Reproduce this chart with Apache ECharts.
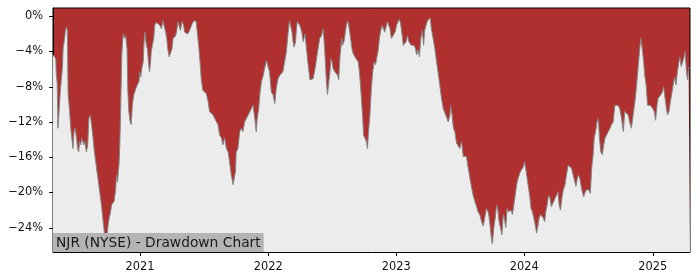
<!DOCTYPE html>
<html>
<head>
<meta charset="utf-8">
<script src="https://cdn.jsdelivr.net/npm/echarts@6/dist/echarts.min.js"></script>
<style>html,body{margin:0;padding:0;background:#fff}#chart{width:700px;height:280px}</style>
</head>
<body>
<div id="chart"></div>
<script>
const titleText = 'NJR (NYSE) - Drawdown Chart';
const yTicks = [0, -4, -8, -12, -16, -20, -24];
const xTickYears = [2021, 2022, 2023, 2024, 2025];
const xRange = ['2020-04-28', '2025-04-17'];
const yRange = [-26.75, 0.94];

const dates = [
'2020-04-28','2020-05-06','2020-05-07','2020-05-10','2020-05-12','2020-05-15','2020-05-19','2020-05-22','2020-05-25','2020-05-27','2020-05-29',
'2020-06-02','2020-06-05','2020-06-08','2020-06-10','2020-06-14','2020-06-18','2020-06-20','2020-06-24','2020-06-27','2020-06-30',
'2020-07-04','2020-07-07','2020-07-10','2020-07-13','2020-07-16','2020-07-19','2020-07-22','2020-07-25','2020-07-28',
'2020-08-01','2020-08-05','2020-08-08','2020-08-12','2020-08-16','2020-08-20','2020-08-24','2020-08-29',
'2020-09-03','2020-09-08','2020-09-13','2020-09-18','2020-09-22','2020-09-25','2020-09-27','2020-09-29',
'2020-10-02','2020-10-05','2020-10-09','2020-10-12','2020-10-16','2020-10-19','2020-10-23','2020-10-26','2020-10-29','2020-10-31',
'2020-11-02','2020-11-04','2020-11-06','2020-11-08','2020-11-10','2020-11-13','2020-11-15','2020-11-18','2020-11-21','2020-11-23','2020-11-25','2020-11-27','2020-11-30',
'2020-12-04','2020-12-07','2020-12-10','2020-12-14','2020-12-17','2020-12-20','2020-12-24','2020-12-27','2020-12-29','2020-12-31',
'2021-01-03','2021-01-06','2021-01-10','2021-01-13','2021-01-15','2021-01-19','2021-01-22','2021-01-25','2021-01-28','2021-01-31',
'2021-02-02','2021-02-05','2021-02-09','2021-02-12','2021-02-16','2021-02-21','2021-02-26',
'2021-03-03','2021-03-07','2021-03-12','2021-03-15','2021-03-18','2021-03-21','2021-03-25','2021-03-29',
'2021-04-02','2021-04-05','2021-04-08','2021-04-11','2021-04-15','2021-04-19','2021-04-23','2021-04-26','2021-04-28',
'2021-05-01','2021-05-05','2021-05-08','2021-05-13','2021-05-17','2021-05-22','2021-05-27','2021-05-30',
'2021-06-04','2021-06-07','2021-06-10','2021-06-13','2021-06-17','2021-06-21','2021-06-25','2021-06-29',
'2021-07-04','2021-07-09','2021-07-14','2021-07-18','2021-07-23','2021-07-28',
'2021-08-02','2021-08-06','2021-08-11','2021-08-16','2021-08-21','2021-08-25','2021-08-30',
'2021-09-04','2021-09-09','2021-09-13','2021-09-18','2021-09-23','2021-09-26','2021-09-30',
'2021-10-02','2021-10-07','2021-10-12','2021-10-17','2021-10-21','2021-10-26','2021-10-31',
'2021-11-05','2021-11-09','2021-11-14','2021-11-19','2021-11-24','2021-11-28',
'2021-12-01','2021-12-05','2021-12-09','2021-12-13','2021-12-18','2021-12-22','2021-12-27',
'2022-01-01','2022-01-05','2022-01-10','2022-01-15','2022-01-20','2022-01-24','2022-01-29',
'2022-02-03','2022-02-08','2022-02-12','2022-02-17','2022-02-22','2022-02-27',
'2022-03-03','2022-03-06','2022-03-10','2022-03-13','2022-03-16','2022-03-20','2022-03-22','2022-03-25','2022-03-28',
'2022-04-01','2022-04-04','2022-04-07','2022-04-11','2022-04-16','2022-04-20','2022-04-25','2022-04-30',
'2022-05-04','2022-05-09','2022-05-14','2022-05-19','2022-05-23','2022-05-28',
'2022-06-02','2022-06-07','2022-06-11','2022-06-16','2022-06-19','2022-06-22','2022-06-26','2022-06-29',
'2022-07-02','2022-07-05','2022-07-10','2022-07-15','2022-07-18','2022-07-21','2022-07-25','2022-07-30',
'2022-08-01','2022-08-05','2022-08-09','2022-08-12','2022-08-16','2022-08-20','2022-08-24','2022-08-28','2022-08-31',
'2022-09-04','2022-09-08','2022-09-11','2022-09-15','2022-09-19','2022-09-23','2022-09-27','2022-09-30',
'2022-10-04','2022-10-08','2022-10-11','2022-10-14','2022-10-18','2022-10-22','2022-10-26','2022-10-30',
'2022-11-03','2022-11-06','2022-11-10','2022-11-14','2022-11-18','2022-11-22','2022-11-25','2022-11-29',
'2022-12-03','2022-12-07','2022-12-11','2022-12-14','2022-12-18','2022-12-22','2022-12-26','2022-12-30',
'2023-01-02','2023-01-06','2023-01-10','2023-01-14','2023-01-18','2023-01-21','2023-01-25','2023-01-29',
'2023-02-02','2023-02-06','2023-02-09','2023-02-13','2023-02-17','2023-02-21','2023-02-25','2023-02-28',
'2023-03-04','2023-03-08','2023-03-12','2023-03-16','2023-03-20','2023-03-23','2023-03-27','2023-03-31',
'2023-04-04','2023-04-08','2023-04-11','2023-04-16','2023-04-21','2023-04-26','2023-04-30',
'2023-05-05','2023-05-10','2023-05-15','2023-05-20','2023-05-24','2023-05-29',
'2023-06-03','2023-06-05','2023-06-09','2023-06-13','2023-06-17','2023-06-22','2023-06-26',
'2023-07-01','2023-07-06','2023-07-11','2023-07-15','2023-07-20','2023-07-25','2023-07-30',
'2023-08-03','2023-08-08','2023-08-13','2023-08-18','2023-08-22','2023-08-27',
'2023-09-01','2023-09-06','2023-09-10','2023-09-15','2023-09-20','2023-09-23','2023-09-27','2023-09-30',
'2023-10-02','2023-10-06','2023-10-10','2023-10-14','2023-10-17','2023-10-21','2023-10-25','2023-10-29',
'2023-11-02','2023-11-05','2023-11-09','2023-11-13','2023-11-17','2023-11-21','2023-11-24','2023-11-28',
'2023-12-02','2023-12-06','2023-12-10','2023-12-14','2023-12-19','2023-12-24','2023-12-29',
'2024-01-02','2024-01-05','2024-01-09','2024-01-13','2024-01-17','2024-01-20','2024-01-24','2024-01-28',
'2024-02-01','2024-02-05','2024-02-09','2024-02-12','2024-02-16','2024-02-20','2024-02-24','2024-02-28',
'2024-03-02','2024-03-06','2024-03-10','2024-03-14','2024-03-18','2024-03-21','2024-03-25','2024-03-29',
'2024-04-02','2024-04-06','2024-04-09','2024-04-13','2024-04-17','2024-04-21','2024-04-26','2024-04-30',
'2024-05-05','2024-05-10','2024-05-14','2024-05-19','2024-05-24','2024-05-27','2024-05-31',
'2024-06-03','2024-06-07','2024-06-10','2024-06-14','2024-06-18','2024-06-21','2024-06-25','2024-06-29',
'2024-07-03','2024-07-07','2024-07-11','2024-07-15','2024-07-18','2024-07-22','2024-07-26','2024-07-30',
'2024-08-02','2024-08-06','2024-08-10','2024-08-14','2024-08-18','2024-08-22','2024-08-27',
'2024-09-01','2024-09-05','2024-09-10','2024-09-15','2024-09-20','2024-09-24','2024-09-29',
'2024-10-04','2024-10-09','2024-10-13','2024-10-18','2024-10-23','2024-10-27',
'2024-11-01','2024-11-06','2024-11-11','2024-11-15','2024-11-20','2024-11-24','2024-11-28',
'2024-12-02','2024-12-06','2024-12-09','2024-12-13','2024-12-17','2024-12-21','2024-12-25','2024-12-29',
'2025-01-01','2025-01-05','2025-01-09','2025-01-13','2025-01-16','2025-01-20','2025-01-24','2025-01-28',
'2025-02-01','2025-02-05','2025-02-09','2025-02-12','2025-02-16','2025-02-20','2025-02-24','2025-02-28',
'2025-03-04','2025-03-08','2025-03-12','2025-03-15','2025-03-19','2025-03-23','2025-03-27','2025-03-30',
'2025-04-03','2025-04-07','2025-04-10','2025-04-13','2025-04-17'
];

const drawdown = [
-4.4,-4.8,-6.3,-7.6,-12.7,-11.0,-8.4,-7.1,-5.7,-3.5,-3.1,
-1.8,-1.2,-1.6,-8.8,-10.6,-12.9,-13.1,-15.0,-13.1,-12.7,
-13.8,-15.0,-15.4,-14.2,-14.6,-13.8,-13.7,-14.6,-14.2,
-15.4,-14.6,-11.6,-11.2,-12.3,-13.8,-15.4,-16.9,
-18.4,-19.9,-21.4,-23.3,-24.8,-25.9,-26.4,-24.8,
-23.7,-22.9,-22.2,-21.4,-21.6,-21.0,-19.9,-18.0,-18.8,-17.6,
-16.9,-15.0,-12.0,-8.2,-4.4,-2.5,-2.0,-2.5,-2.2,-2.9,-3.7,-8.2,-10.8,
-12.0,-12.3,-10.1,-8.9,-8.6,-8.2,-7.8,-7.6,-7.4,-6.3,
-6.9,-5.9,-5.2,-2.5,-1.8,-3.3,-3.7,-5.2,-6.3,-5.2,
-4.0,-3.3,-2.5,-1.0,-0.7,-0.5,-1.0,
-1.4,-0.5,-0.3,-1.8,-2.5,-3.7,-4.6,-4.8,
-3.7,-2.5,-2.7,-2.3,-1.8,-0.6,-0.6,-1.6,-1.4,
-0.6,-1.0,-1.8,-1.6,-2.0,-1.6,-1.4,-0.8,
-0.5,-0.3,-0.6,-1.8,-3.3,-5.2,-7.4,-8.4,
-8.6,-8.8,-9.7,-10.8,-10.8,-11.2,
-11.6,-11.8,-12.3,-13.5,-13.8,-14.6,-13.8,
-15.0,-15.4,-16.5,-18.0,-19.1,-19.3,-17.6,
-15.4,-15.0,-13.1,-12.7,-13.1,-12.0,-11.6,
-11.2,-11.2,-10.5,-10.1,-11.6,-13.1,
-11.6,-10.5,-8.6,-7.4,-6.7,-5.9,-5.0,
-4.8,-6.3,-8.6,-8.9,-9.9,-8.2,-7.1,
-6.7,-6.5,-6.3,-6.1,-4.0,-1.8,
-0.5,-0.5,-1.8,-2.9,-3.5,-2.9,-1.8,-0.6,-0.5,
-1.0,-1.4,-1.8,-2.9,-2.0,-2.2,-5.5,-7.2,
-7.1,-7.1,-6.1,-4.8,-3.7,-2.5,
-2.2,-1.4,-3.7,-7.4,-8.9,-7.8,-6.3,-4.8,
-5.2,-5.9,-6.3,-6.5,-6.7,-7.2,-4.4,-2.5,
-3.3,-2.9,-1.8,-1.0,-0.5,-1.4,-2.5,-3.7,-4.2,
-4.0,-4.8,-4.8,-5.2,-6.7,-8.9,-11.2,-13.5,
-13.3,-14.2,-15.0,-13.1,-11.2,-8.2,-6.3,-5.2,
-5.5,-4.8,-4.0,-2.5,-1.6,-1.0,-1.2,-1.8,
-1.6,-0.6,-0.5,-1.4,-2.5,-2.3,-2.0,-1.6,
-1.0,-0.6,-0.3,-1.0,-2.2,-3.3,-3.5,-2.9,
-2.2,-2.9,-3.1,-3.3,-3.5,-3.3,-3.7,-4.4,
-3.8,-4.6,-2.5,-1.6,-3.3,-1.6,-1.0,-0.5,
-0.3,-0.2,-1.4,-2.5,-3.7,-5.2,-6.3,
-7.8,-9.3,-10.5,-11.0,-11.4,-12.0,
-11.2,-10.1,-11.2,-12.7,-13.1,-14.4,-14.6,
-15.0,-14.2,-15.9,-16.1,-15.9,-17.2,-18.4,
-19.3,-20.3,-21.0,-21.6,-22.2,-22.5,
-23.3,-23.8,-22.9,-21.8,-22.2,-22.9,-24.4,-25.5,
-25.8,-24.0,-22.9,-21.4,-21.8,-23.3,-24.0,-24.8,
-22.5,-22.9,-24.0,-21.8,-22.2,-22.3,-22.0,-22.5,
-21.4,-20.3,-19.1,-18.4,-17.8,-17.4,-17.1,
-16.5,-16.5,-18.4,-19.5,-20.6,-21.8,-22.2,-22.9,
-23.7,-24.6,-23.7,-22.9,-22.5,-22.3,-22.9,-23.3,
-22.2,-21.4,-20.3,-20.6,-21.6,-21.6,-21.0,-20.6,
-20.3,-19.9,-21.4,-22.0,-20.6,-19.7,-19.1,-18.0,
-16.9,-16.7,-17.2,-17.4,-18.8,-19.3,-18.4,
-18.0,-18.4,-19.1,-19.9,-20.5,-20.1,-19.7,-19.5,
-19.7,-20.1,-17.2,-15.7,-13.8,-13.1,-12.0,-11.6,
-13.8,-15.4,-15.7,-14.6,-13.8,-13.5,-13.1,
-12.7,-12.3,-12.0,-10.1,-9.9,-10.1,-10.5,
-11.6,-13.1,-10.8,-10.8,-11.2,-12.0,
-12.7,-11.2,-9.7,-8.2,-5.9,-4.0,-2.5,
-3.7,-5.2,-6.7,-7.8,-10.1,-10.1,-10.1,-10.3,
-10.5,-10.8,-11.8,-10.1,-9.3,-9.5,-8.9,-8.6,
-8.0,-9.3,-10.5,-11.2,-10.8,-9.7,-8.8,-7.8,
-6.9,-7.8,-6.3,-5.5,-4.6,-5.7,-5.2,-4.8,
-4.0,-6.3,-7.2,-5.9,-5.8
];

const toTs = s => { const p = s.split('-').map(Number); return Date.UTC(p[0], p[1] - 1, p[2]); };
const yearTicks = xTickYears.map(y => Date.UTC(y, 0, 1));
const font = 'DejaVu Sans';

const chart = echarts.init(document.getElementById('chart'), null, { renderer: 'canvas' });
chart.setOption({
  animation: false,
  title: {
    text: titleText,
    left: 53,
    bottom: 28,
    backgroundColor: '#b4b4b4',
    padding: [2, 3, 1, 3],
    textStyle: { fontFamily: font, fontSize: 13.8, fontWeight: 'normal', color: '#1a1a1a', lineHeight: 16 }
  },
  grid: {
    left: 53, right: 10, top: 8, bottom: 28,
    show: true, backgroundColor: '#b03030', borderColor: '#000', borderWidth: 1
  },
  xAxis: {
    type: 'value',
    min: toTs(xRange[0]),
    max: toTs(xRange[1]),
    axisLine: { show: true, onZero: false, lineStyle: { color: '#000', width: 1 } },
    axisTick: { show: true, length: 4, lineStyle: { color: '#000' }, customValues: yearTicks },
    axisLabel: {
      customValues: yearTicks,
      formatter: v => String(new Date(v).getUTCFullYear()),
      fontFamily: font, fontSize: 11.4, color: '#111', margin: 10
    },
    splitLine: { show: false }
  },
  yAxis: {
    type: 'value',
    min: yRange[0],
    max: yRange[1],
    axisLine: { show: true, lineStyle: { color: '#000', width: 1 } },
    axisTick: { show: true, length: 4, lineStyle: { color: '#000' }, customValues: yTicks },
    axisLabel: {
      customValues: yTicks,
      formatter: v => (v < 0 ? '\u2212' : '') + Math.abs(v) + '%',
      fontFamily: font, fontSize: 11.4, color: '#111', margin: 10
    },
    splitLine: { show: false }
  },
  series: [{
    type: 'line',
    data: dates.map((d, i) => [toTs(d), drawdown[i]]),
    showSymbol: false,
    symbol: 'none',
    smooth: false,
    lineStyle: { color: '#858585', width: 1 },
    areaStyle: { origin: 'start', color: '#ececec', opacity: 1 },
    z: 2
  }]
});
</script>
</body>
</html>
